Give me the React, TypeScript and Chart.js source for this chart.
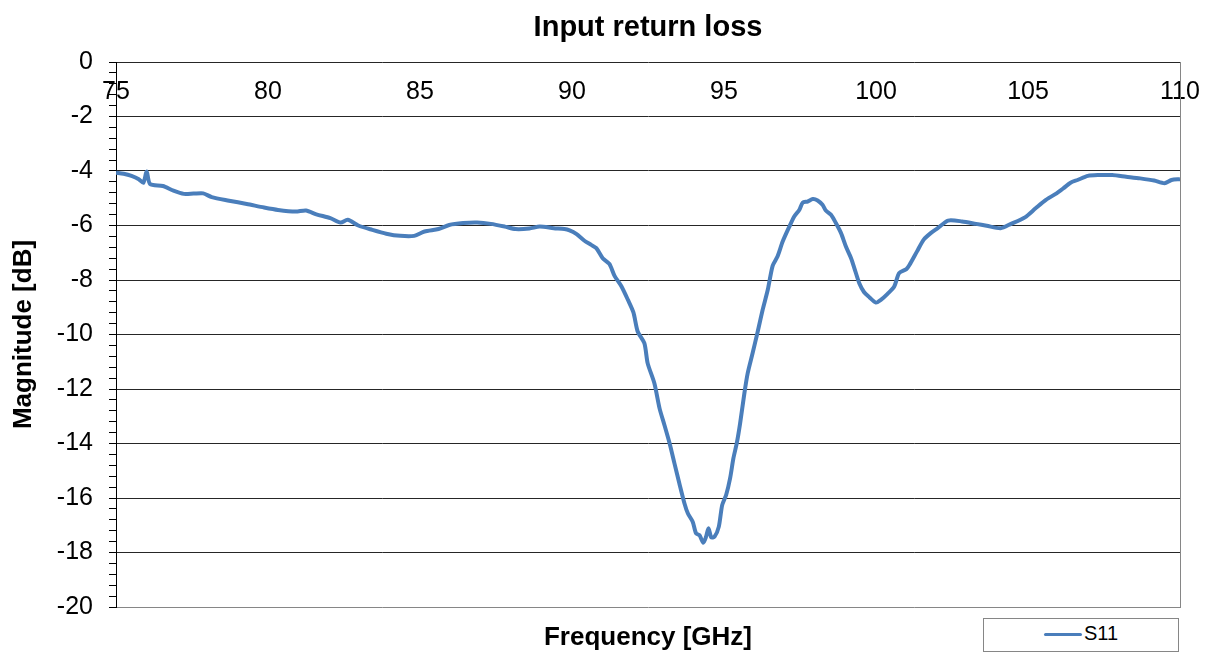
import React, { useEffect, useRef } from 'react';
import { Chart, registerables } from 'chart.js';

Chart.register(...registerables);

const TITLE = 'Input return loss';
const X_TITLE = 'Frequency [GHz]';
const Y_TITLE = 'Magnitude [dB]';
const SERIES_NAME = 'S11';

const X_MIN = 75;
const X_MAX = 110;
const X_STEP = 5;
const Y_MIN = -20;
const Y_MAX = 0;
const Y_MAJOR = 2;
const Y_MINOR = 0.4;

const freq = [
  75.0, 75.25, 75.51, 75.75, 75.9, 76.01, 76.12, 76.54, 76.89, 77.23, 77.55, 77.87, 78.15, 78.72, 79.3, 79.87,
  80.33, 80.91, 81.25, 81.59, 82.05, 82.39, 82.62, 82.97, 83.43, 83.89, 84.35, 84.81, 85.15, 85.61, 85.96,
  86.42, 86.88, 87.33, 87.79, 88.14, 88.6, 88.94, 89.4, 89.75, 89.92, 90.14, 90.41, 90.63, 90.8, 91.01,
  91.23, 91.4, 91.62, 91.84, 92.02, 92.16, 92.38, 92.49, 92.71, 92.88, 93.04, 93.21, 93.37, 93.53, 93.7,
  93.81, 93.97, 94.08, 94.19, 94.32, 94.41, 94.49, 94.58, 94.69, 94.83, 94.94, 95.07, 95.2, 95.31, 95.42,
  95.53, 95.67, 95.78, 95.94, 96.11, 96.27, 96.44, 96.6, 96.76, 96.93, 97.15, 97.31, 97.48, 97.59, 97.75,
  97.92, 98.08, 98.24, 98.35, 98.52, 98.68, 98.85, 99.01, 99.18, 99.29, 99.45, 99.61, 99.78, 100.0, 100.16,
  100.38, 100.6, 100.76, 101.0, 101.1, 101.35, 101.57, 101.8, 102.03, 102.37, 102.83, 103.29, 103.64, 104.1,
  104.44, 104.9, 105.25, 105.59, 105.94, 106.17, 106.4, 106.63, 106.97, 107.31, 107.77, 108.23, 108.69,
  109.15, 109.49, 109.72, 110.0,
];

const s11 = [
  -4.06, -4.1, -4.18, -4.3, -4.43, -4.02, -4.48, -4.55, -4.72, -4.84, -4.83, -4.82, -4.96, -5.09, -5.21, -5.34,
  -5.43, -5.49, -5.45, -5.59, -5.73, -5.89, -5.79, -6.0, -6.16, -6.3, -6.38, -6.38, -6.22, -6.13, -5.98,
  -5.91, -5.89, -5.94, -6.04, -6.13, -6.11, -6.04, -6.1, -6.13, -6.18, -6.31, -6.56, -6.71, -6.83, -7.2,
  -7.41, -7.85, -8.22, -8.73, -9.19, -9.89, -10.32, -11.06, -11.79, -12.71, -13.32, -13.99, -14.73, -15.46, -16.2,
  -16.56, -16.87, -17.3, -17.36, -17.64, -17.42, -17.11, -17.44, -17.42, -17.05, -16.26, -15.89, -15.28, -14.54, -13.99,
  -13.26, -12.16, -11.42, -10.69, -9.89, -9.1, -8.36, -7.48, -7.14, -6.59, -6.04, -5.67, -5.42, -5.16, -5.12,
  -5.03, -5.08, -5.24, -5.45, -5.61, -5.91, -6.28, -6.77, -7.2, -7.57, -8.12, -8.45, -8.63, -8.83, -8.73,
  -8.51, -8.24, -7.75, -7.6, -7.45, -6.95, -6.52, -6.28, -6.1, -5.82, -5.85, -5.94, -6.01, -6.1,
  -5.94, -5.7, -5.37, -5.06, -4.82, -4.63, -4.43, -4.33, -4.18, -4.15, -4.15, -4.21, -4.27,
  -4.35, -4.45, -4.33, -4.3,
];

const FONT = '"Liberation Sans", Arial, Helvetica, sans-serif';
const BLUE = '#4A7EBB';
const GRID = '#262626';
const FRAME = '#868686';

const isMajor = (v: number) => {
  const r = Math.round(v);
  return Math.abs(v - r) < 1e-6 && r % Y_MAJOR === 0;
};

const noSidePadding = (s: any) => {
  s.paddingLeft = 0;
  s.paddingRight = 0;
};

export default function App() {
  const ref = useRef<HTMLCanvasElement>(null);

  useEffect(() => {
    const points = freq.map((f, i) => ({ x: f, y: s11[i] }));
    const chart = new Chart(ref.current as HTMLCanvasElement, {
      type: 'line',
      data: {
        datasets: [
          {
            label: SERIES_NAME,
            data: points,
            borderColor: BLUE,
            backgroundColor: BLUE,
            borderWidth: 4,
            pointRadius: 0,
            tension: 0.25,
            fill: false,
            xAxisID: 'x',
            yAxisID: 'y',
          },
        ],
      },
      options: {
        responsive: false,
        animation: false,
        devicePixelRatio: 1,
        layout: { padding: { left: 0, right: 30, top: 0, bottom: 0 } },
        plugins: {
          legend: { display: false },
          tooltip: { enabled: false },
          title: {
            display: true,
            text: TITLE,
            fullSize: false,
            color: '#000',
            font: { family: FONT, size: 29, weight: 'bold' },
            padding: { top: 11, bottom: 16.2 },
          },
        },
        scales: {
          x: {
            type: 'linear',
            position: { y: 0 },
            min: X_MIN,
            max: X_MAX,
            afterFit: noSidePadding,
            ticks: {
              stepSize: X_STEP,
              color: '#000',
              font: { family: FONT, size: 25 },
              padding: 15.5,
              maxRotation: 0,
              autoSkip: false,
            },
            grid: { display: false, drawTicks: false },
            border: { display: false },
          },
          xb: {
            type: 'linear',
            position: 'bottom',
            min: X_MIN,
            max: X_MAX,
            afterFit: noSidePadding,
            ticks: { display: false },
            grid: { display: false, drawTicks: false },
            border: { display: false },
            title: {
              display: true,
              text: X_TITLE,
              color: '#000',
              font: { family: FONT, size: 26, weight: 'bold' },
              padding: { top: 14.8, bottom: 0 },
            },
          },
          y: {
            type: 'linear',
            position: 'left',
            min: Y_MIN,
            max: Y_MAX,
            afterFit: (s: any) => {
              s.width = 116;
            },
            ticks: {
              stepSize: Y_MINOR,
              maxTicksLimit: 200,
              autoSkip: false,
              color: '#000',
              font: { family: FONT, size: 25 },
              padding: 16,
              callback: (v: any) => (isMajor(Number(v)) ? String(Math.round(Number(v))) : ''),
            },
            grid: {
              color: (ctx: any) => {
                const v = ctx.tick ? ctx.tick.value : 0;
                if (!isMajor(v)) return 'rgba(0,0,0,0)';
                if (Math.round(v) === Y_MIN) return FRAME;
                return GRID;
              },
              tickColor: '#000',
              tickLength: 7,
              lineWidth: 1,
              drawTicks: true,
            },
            border: { display: true, color: '#000', width: 1 },
            title: {
              display: true,
              text: Y_TITLE,
              color: '#000',
              font: { family: FONT, size: 26, weight: 'bold' },
              padding: { top: 8, bottom: 0 },
            },
          },
          yr: {
            type: 'linear',
            position: 'right',
            min: Y_MIN,
            max: Y_MAX,
            afterFit: (s: any) => {
              s.width = 0;
            },
            ticks: { display: false },
            grid: { display: false, drawTicks: false },
            border: { display: true, color: FRAME, width: 1 },
          },
        },
      },
    } as any);
    return () => chart.destroy();
  }, []);

  return (
    <div style={{ position: 'fixed', left: 0, top: 0, width: 1210, height: 653, background: '#fff' }}>
      <canvas ref={ref} width={1210} height={653} style={{ display: 'block' }} />
      <div
        style={{
          position: 'absolute',
          left: 983,
          top: 618,
          width: 196,
          height: 34,
          boxSizing: 'border-box',
          border: `1px solid ${FRAME}`,
          background: '#fff',
        }}
      >
        <span
          style={{ position: 'absolute', left: 60, top: 14, width: 38, height: 3, background: BLUE, borderRadius: 1.5 }}
        />
        <span
          style={{
            position: 'absolute',
            left: 100,
            top: 4,
            fontFamily: FONT,
            fontSize: 20,
            lineHeight: '20px',
            color: '#000',
            whiteSpace: 'nowrap',
          }}
        >
          {SERIES_NAME}
        </span>
      </div>
    </div>
  );
}
